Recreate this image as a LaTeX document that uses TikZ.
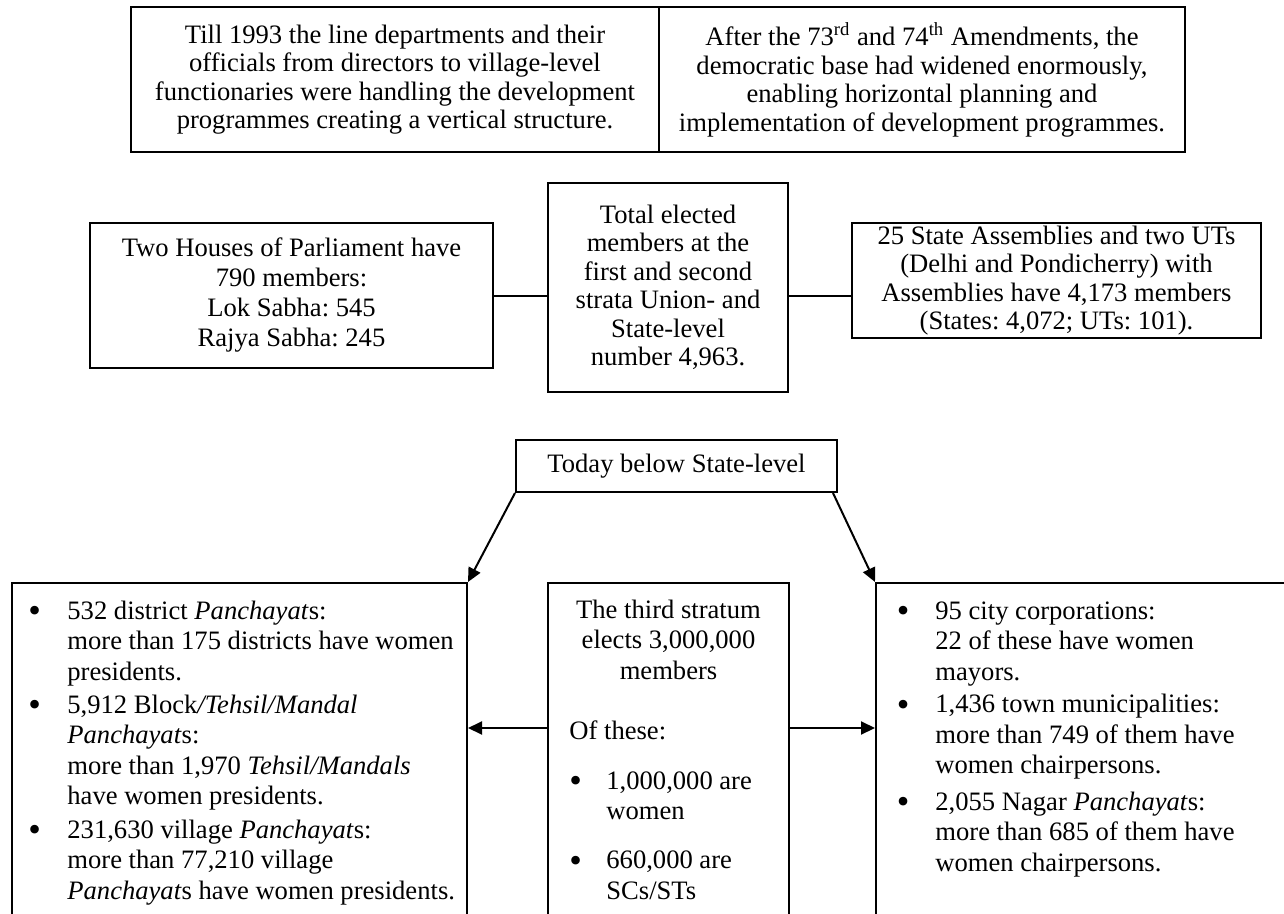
\documentclass[tikz,border=0pt]{standalone}
\usepackage{fontspec}
\usepackage{graphicx}
\setmainfont{Liberation Serif}
\usetikzlibrary{arrows.meta}
\frenchspacing
\newcommand{\fsz}{\fontsize{13.3}{14.25}\selectfont}
\newcommand{\fsm}{\fontsize{13.3}{15}\selectfont}
\newcommand{\fsl}{\fontsize{13.3}{15.25}\selectfont}
\newcommand{\bul}{\raisebox{-0.15em}{\scalebox{1.35}{\textbullet}}}
\tikzset{
  box/.style={draw, line width=1pt, inner sep=0pt, align=center, font=\fsz},
  txt/.style={inner sep=0pt, font=\fsl},
  conn/.style={line width=1pt},
  arr/.style={line width=1pt, -{Triangle[length=7pt,width=6.5pt]}},
}
\begin{document}
\begin{tikzpicture}[x=0.5pt,y=-0.5pt]
\useasboundingbox (0,0) rectangle (1284,914);
\clip (0,0) rectangle (1284,914);
% top row
\node[box, minimum width=264pt, minimum height=72.5pt] (tl) at (395,79.5)
  {Till 1993 the line departments and their\\officials from directors to village-level\\functionaries were handling the development\\programmes creating a vertical structure.};
\node[box, minimum width=263pt, minimum height=72.5pt] (tr) at (922,79.5)
  {After the 73\textsuperscript{rd} and 74\textsuperscript{th} Amendments, the\\democratic base had widened enormously,\\enabling horizontal planning and\\implementation of development programmes.};
% middle row
\node[box, font=\fsm, minimum width=201.5pt, minimum height=72.5pt] (ml) at (291.5,295.5)
  {Two Houses of Parliament have\\790 members:\\Lok Sabha: 545\\Rajya Sabha: 245};
\node[box, minimum width=120pt, minimum height=104.5pt] (mc) at (668,287.5)
  {Total elected\\members at the\\first and second\\strata Union- and\\State-level\\number 4,963.};
\node[box, minimum width=204.5pt, minimum height=57.5pt] (mr) at (1056.5,280.5)
  {25 State Assemblies and two UTs\\(Delhi and Pondicherry) with\\Assemblies have 4,173 members\\(States: 4,072; UTs: 101).};
\coordinate (yb) at (0,296);
\draw[conn] (ml.east |- yb) -- (mc.west |- yb);
\draw[conn] (mc.east |- yb) -- (mr.west |- yb);
% today
\node[box, minimum width=160.5pt, minimum height=26pt] (today) at (676.5,466) {Today below State-level};
% bottom row
\node[box, minimum width=227.5pt, minimum height=178.5pt] (lb) at (239.5,761.5) {};
\node[box, minimum width=120.5pt, minimum height=178.5pt] (lc) at (668.5,761.5) {};
\node[box, minimum width=212pt, minimum height=178.5pt] (lr) at (1088,761.5) {};
\node[txt, anchor=base west] (lbt) at (28,619) {\begin{tabular}[t]{@{}p{19.5pt}@{}l@{}}
\bul & 532 district \textit{Panchayat}s:\\
 & more than 175 districts have women\\
 & presidents.\\[1.25pt]
\bul & 5,912 Block\textit{/Tehsil/Mandal}\\
 & \textit{Panchayat}s:\\
 & more than 1,970 \textit{Tehsil/Mandals}\\
 & have women presidents.\\[1.5pt]
\bul & 231,630 village \textit{Panchayat}s:\\
 & more than 77,210 village\\
 & \textit{Panchayat}s have women presidents.
\end{tabular}};
\node[txt, anchor=base] (lct) at (668.5,618) {\begin{tabular}[t]{@{}c@{}}The third stratum\\elects 3,000,000\\members\end{tabular}};
\node[txt, anchor=base west] (lcl) at (569,739) {\begin{tabular}[t]{@{}p{18.5pt}@{}l@{}}
\multicolumn{2}{@{}l@{}}{Of these:}\\[9.75pt]
\bul & 1,000,000 are\\
 & women\\[9.25pt]
\bul & 660,000 are\\
 & SCs/STs
\end{tabular}};
\node[txt, anchor=base west] (lrt) at (896.5,619) {\begin{tabular}[t]{@{}p{19.25pt}@{}l@{}}
\bul & 95 city corporations:\\
 & 22 of these have women\\
 & mayors.\\[1pt]
\bul & 1,436 town municipalities:\\
 & more than 749 of them have\\
 & women chairpersons.\\[3pt]
\bul & 2,055 Nagar \textit{Panchayat}s:\\
 & more than 685 of them have\\
 & women chairpersons.
\end{tabular}};
% connectors
\coordinate (ya) at (0,728);
\draw[arr] (lc.west |- ya) -- (lb.east |- ya);
\draw[arr] (lc.east |- ya) -- (lr.west |- ya);
\draw[arr] (today.south west) -- (lb.north east);
\draw[arr] ([xshift=-2.5pt]today.south east) -- (lr.north west);
\end{tikzpicture}
\end{document}
